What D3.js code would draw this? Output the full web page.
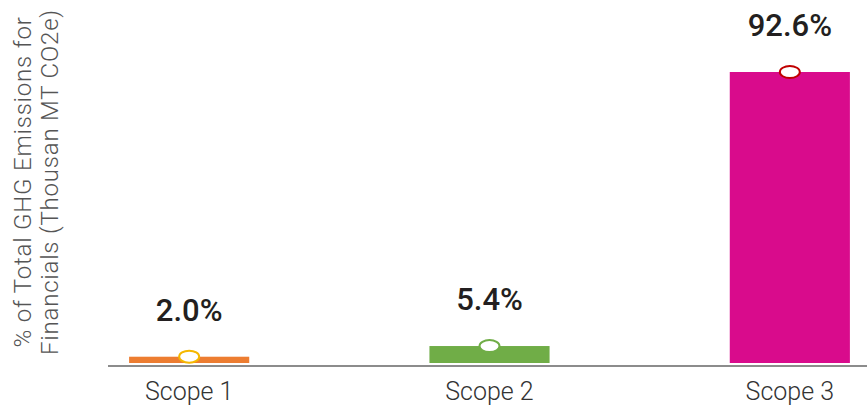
<!DOCTYPE html>
<meta charset="utf-8">
<style>
body { margin: 0; background: #fff; }
.value { font: 500 31px Roboto, sans-serif; fill: #231f20; text-anchor: middle; }
.cat { font: 300 25px Roboto, sans-serif; fill: #333; text-anchor: middle; }
.ytitle { font: 300 24px Roboto, sans-serif; fill: #555; text-anchor: middle; letter-spacing: 0.8px; }
</style>
<svg width="867" height="406"></svg>
<script src="https://cdn.jsdelivr.net/npm/d3@7"></script>
<script>

var categories = ["Scope 1", "Scope 2", "Scope 3"],
    values = [2.0, 5.4, 92.6],
    labels = ["2.0%", "5.4%", "92.6%"],
    barColors = ["#ed7d31", "#70ad47", "#d90b8c"],
    markerColors = ["#f5b800", "#70ad47", "#c00000"];

var svg = d3.select("svg");

var x = d3.scaleBand()
    .domain(categories)
    .range([39, 940])
    .paddingInner(0.6)
    .paddingOuter(0.3);

var y = d3.scaleLinear()
    .domain([0, 92.6])
    .range([363, 72]);

// axis baseline
svg.append("line")
    .attr("x1", 108)
    .attr("x2", 867)
    .attr("y1", 366)
    .attr("y2", 366)
    .attr("stroke", "#8c8c8c")
    .attr("stroke-width", 2);

var bar = svg.selectAll(".bar")
    .data(categories)
  .enter().append("g")
    .attr("class", "bar");

bar.append("rect")
    .attr("x", function(d) { return x(d); })
    .attr("y", function(d, i) { return y(values[i]); })
    .attr("width", x.bandwidth())
    .attr("height", function(d, i) { return y(0) - y(values[i]); })
    .attr("fill", function(d, i) { return barColors[i]; });

bar.append("ellipse")
    .attr("cx", function(d) { return x(d) + x.bandwidth() / 2; })
    .attr("cy", function(d, i) { return y(values[i]); })
    .attr("rx", 10)
    .attr("ry", 6)
    .attr("fill", "#fff")
    .attr("stroke", function(d, i) { return markerColors[i]; })
    .attr("stroke-width", 2);

bar.append("text")
    .attr("class", "value")
    .attr("x", function(d) { return x(d) + x.bandwidth() / 2; })
    .attr("y", function(d, i) { return y(values[i]) - 36; })
    .text(function(d, i) { return labels[i]; });

bar.append("text")
    .attr("class", "cat")
    .attr("x", function(d) { return x(d) + x.bandwidth() / 2; })
    .attr("y", 400)
    .text(function(d) { return d; });

// y axis title
var title = svg.append("text")
    .attr("class", "ytitle")
    .attr("transform", "translate(0,182) rotate(-90)");

title.append("tspan").attr("x", 0).attr("y", 31).text("% of Total GHG Emissions for");
title.append("tspan").attr("x", 0).attr("y", 58).text("Financials (Thousan MT CO2e)");

</script>
